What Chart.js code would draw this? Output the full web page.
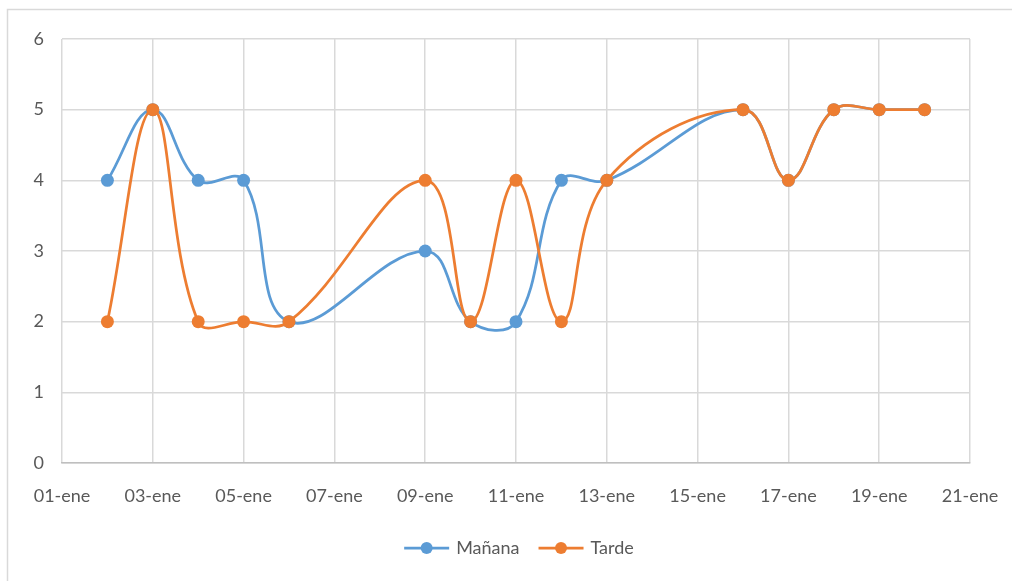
<!DOCTYPE html>
<html lang="es">
<head>
<meta charset="utf-8">
<title>Mañana y Tarde</title>
<script src="https://cdn.jsdelivr.net/npm/chart.js@4/dist/chart.umd.min.js"></script>
<style>
  html, body { margin: 0; padding: 0; background: #ffffff; }
  #wrap { position: relative; width: 1012px; height: 581px; }
  canvas { display: block; }
</style>
</head>
<body>
<div id="wrap"><canvas id="chart" width="1012" height="581"></canvas></div>
<script>
// Days of January with a recorded value
const days = [2, 3, 4, 5, 6, 9, 10, 11, 12, 13, 16, 17, 18, 19, 20];
// Series values per day
const manana = [4, 5, 4, 4, 2, 3, 2, 2, 4, 4, 5, 4, 5, 5, 5];
const tarde  = [2, 5, 2, 2, 2, 4, 2, 4, 2, 4, 5, 4, 5, 5, 5];
// Axis tick labels
const xTickLabels = ['01-ene', '03-ene', '05-ene', '07-ene', '09-ene', '11-ene',
                     '13-ene', '15-ene', '17-ene', '19-ene', '21-ene'];
const yTickLabels = ['0', '1', '2', '3', '4', '5', '6'];
const seriesNames = ['Mañana', 'Tarde'];

const BLUE = '#5B9BD5';
const ORANGE = '#ED7D31';
const TEXT = '#595959';
const GRID = '#d9d9d9';
const FONT = 'Lato, "Liberation Sans", sans-serif';

function toPoints(vals) {
  return days.map((d, i) => ({ x: d, y: vals[i] }));
}

function lineSet(label, vals, color, order) {
  return {
    label: label,
    data: toPoints(vals),
    order: order,
    borderColor: color,
    backgroundColor: color,
    borderWidth: 2.75,
    pointRadius: 6.5,
    pointHoverRadius: 6.5,
    pointBorderWidth: 0,
    tension: 0.4,
    fill: false
  };
}

// Outer frame of the chart object
const framePlugin = {
  id: 'frame',
  beforeDraw(chart) {
    const ctx = chart.ctx;
    ctx.save();
    ctx.fillStyle = '#ffffff';
    ctx.fillRect(0, 0, chart.width, chart.height);
    ctx.strokeStyle = GRID;
    ctx.lineWidth = 1.5;
    ctx.beginPath();
    ctx.moveTo(chart.width, 9.5);
    ctx.lineTo(7.5, 9.5);
    ctx.lineTo(7.5, chart.height);
    ctx.stroke();
    ctx.restore();
  }
};

// Legend with a line-and-marker swatch for each series
const lineLegend = {
  id: 'lineLegend',
  afterDraw(chart) {
    const ctx = chart.ctx;
    const y = 548;
    const swatch = 45, gapText = 7, gapItem = 19;
    ctx.save();
    ctx.font = '18px ' + FONT;
    ctx.textBaseline = 'middle';
    const items = chart.data.datasets.map(ds => ({
      label: ds.label, color: ds.borderColor, w: ctx.measureText(ds.label).width
    }));
    const total = items.reduce((s, it) => s + swatch + gapText + it.w, 0) + gapItem * (items.length - 1);
    let x = 519 - total / 2;
    items.forEach(it => {
      ctx.strokeStyle = it.color;
      ctx.lineWidth = 2.75;
      ctx.beginPath();
      ctx.moveTo(x, y);
      ctx.lineTo(x + swatch, y);
      ctx.stroke();
      ctx.fillStyle = it.color;
      ctx.beginPath();
      ctx.arc(x + swatch / 2, y, 6, 0, Math.PI * 2);
      ctx.fill();
      ctx.fillStyle = TEXT;
      ctx.textAlign = 'left';
      ctx.fillText(it.label, x + swatch + gapText, y);
      x += swatch + gapText + it.w + gapItem;
    });
    ctx.restore();
  }
};

new Chart(document.getElementById('chart'), {
  type: 'line',
  data: {
    datasets: [
      lineSet(seriesNames[0], manana, BLUE, 1),
      lineSet(seriesNames[1], tarde, ORANGE, 0)
    ]
  },
  options: {
    responsive: false,
    animation: false,
    events: [],
    layout: { padding: { left: 8, top: 39, right: 42, bottom: 58 } },
    plugins: {
      legend: { display: false },
      tooltip: { enabled: false }
    },
    scales: {
      x: {
        type: 'linear',
        min: 1,
        max: 21,
        afterFit(scale) {
          scale.height = 60;
          scale.paddingLeft = 0;
          scale.paddingRight = 0;
        },
        afterBuildTicks(scale) {
          scale.ticks = xTickLabels.map((_, i) => ({ value: 1 + 2 * i }));
        },
        ticks: {
          color: TEXT,
          font: { family: FONT, size: 18 },
          padding: 22,
          maxRotation: 0,
          autoSkip: false,
          callback: (v) => xTickLabels[(v - 1) / 2]
        },
        grid: { color: GRID, lineWidth: 1.5, drawTicks: false },
        border: { display: true, color: '#bfbfbf', width: 1.5 }
      },
      y: {
        min: 0,
        max: 6,
        afterFit(scale) { scale.width = 54; },
        ticks: {
          stepSize: 1,
          color: TEXT,
          font: { family: FONT, size: 18 },
          padding: 18,
          callback: (v) => yTickLabels[v]
        },
        grid: { color: GRID, lineWidth: 1.5, drawTicks: false },
        border: { display: false }
      }
    }
  },
  plugins: [framePlugin, lineLegend]
});
</script>
</body>
</html>
